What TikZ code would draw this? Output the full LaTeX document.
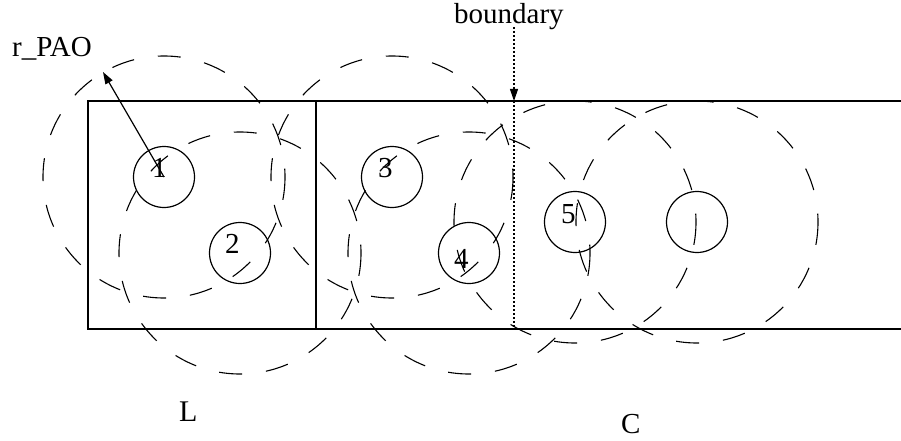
\documentclass[tikz,border=0pt]{standalone}
\usepackage{fontspec}
\setmainfont{Liberation Serif}
\usetikzlibrary{arrows.meta}
\begin{document}
\begin{tikzpicture}[x=1pt,y=-1pt,
  solidline/.style={line width=1.2pt},
  smallc/.style={circle,draw,line width=1.2pt,minimum size=61pt,inner sep=0pt},
  bigc/.style={line width=1.1pt,dash pattern=on 23pt off 24pt},
  dotline/.style={line width=1.1pt,dash pattern=on 2pt off 2pt},
  lbl/.style={anchor=base west,inner sep=0pt,font=\fontsize{29}{34}\selectfont},
  tip/.style={-{Triangle[length=12pt,width=8pt]}}]
\useasboundingbox (0,0) rectangle (901,441);
% frame
\coordinate (tl) at (88,101);
\coordinate (bl) at (88,329);
\coordinate (tr) at (901,101);
\coordinate (br) at (901,329);
\coordinate (dt) at (316,101);
\coordinate (db) at (316,329);
\draw[solidline] (tr) -- (tl) -- (bl) -- (br);
\draw[solidline] (dt) -- (db);
% small circles
\node[smallc] (c1) at (164,177) {};
\node[smallc] (c2) at (240,253) {};
\node[smallc] (c3) at (392,177) {};
\node[smallc] (c4) at (469,253) {};
\node[smallc] (c5) at (575,222) {};
\node[smallc] (c6) at (697,222) {};
% big dashed circles
\foreach \c in {c1,c2,c3,c4,c5,c6} \draw[bigc] (\c.center) circle (121);
% labels
\node[lbl] (n1) at (152,177) {1};
\node[lbl] (n2) at (225,253) {2};
\node[lbl] (n3) at (378,177) {3};
\node[lbl] (n4) at (454,268) {4};
\node[lbl] (n5) at (561,223) {5};
\node[lbl] (rpao) at (12,57) {r\_PAO};
\node[lbl] (bd) at (454,24) {boundary};
\node[lbl,font=\fontsize{30}{34}\selectfont] (L) at (179,421) {L};
\node[lbl,font=\fontsize{29}{34}\selectfont] (C) at (621,433) {C};
% r_PAO arrow
\coordinate (rtip) at (103,72);
\draw[solidline,tip] (c1.center) -- (rtip);
% boundary arrow
\coordinate (bt) at (514,27);
\coordinate (bm) at (514,101);
\coordinate (bb) at (514,329);
\draw[dotline,tip] (bt) -- (bm);
\draw[dotline] (bm) -- (bb);
\end{tikzpicture}
\end{document}
